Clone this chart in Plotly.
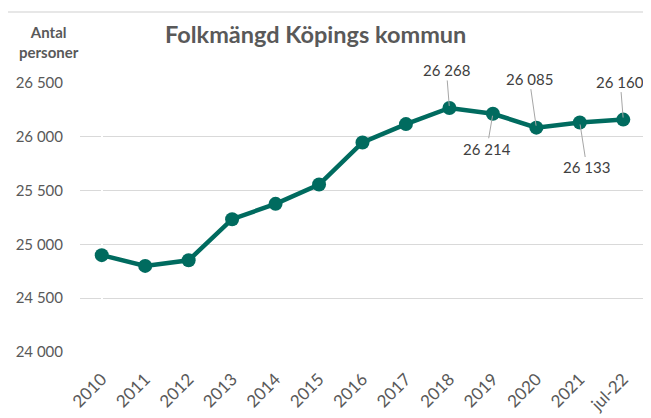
import plotly.graph_objects as go

categories = ["2010", "2011", "2012", "2013", "2014", "2015", "2016",
              "2017", "2018", "2019", "2020", "2021", "jul-22"]
population = [24900, 24800, 24852, 25234, 25377, 25556, 25947,
              26118, 26268, 26214, 26085, 26133, 26160]
y_tick_vals = [24000, 24500, 25000, 25500, 26000, 26500]
labelled_categories = ["2018", "2019", "2020", "2021", "jul-22"]
label_offsets = {"2018": (-3, -38), "2019": (-6, 35), "2020": (-7, -49),
                 "2021": (7, 45), "jul-22": (-3, -38)}

def fmt(v):
    return f"{v:,}".replace(",", " ")

FONT = "Lato"
LINE = "#006B5F"

# page body has an 8px margin; work in screen pixels and subtract it
OFF = 8
W, H = 651 - OFF, 418 - OFF
L, R, T, B = 80 - OFF, 6, 83 - OFF, 418 - 352
pw, ph = W - L - R, H - T - B

def px2paper_x(px):
    return (px - OFF - L) / pw

def px2paper_y(py):
    return (H - B - (py - OFF)) / ph

fig = go.Figure()
fig.add_trace(go.Scatter(
    x=list(range(len(categories))), y=population, mode="lines+markers",
    line=dict(color=LINE, width=4.5),
    marker=dict(color=LINE, size=14),
    hoverinfo="skip", showlegend=False,
))

annotations = []
for c in labelled_categories:
    i = categories.index(c)
    v = population[i]
    ax, ay = label_offsets[c]
    annotations.append(dict(
        x=i, y=v, xref="x", yref="y", text=fmt(v),
        showarrow=True, arrowhead=0, arrowwidth=1, arrowcolor="#A6A6A6",
        ax=ax, ay=ay, standoff=2,
        font=dict(family=FONT, size=15, color="#404040"),
    ))

annotations.append(dict(
    x=px2paper_x(49), y=px2paper_y(42), xref="paper", yref="paper",
    text="<b>Antal<br>personer</b>", showarrow=False,
    font=dict(family=FONT, size=15, color="#595959"),
    xanchor="center", yanchor="middle", align="center",
))
annotations.append(dict(
    x=px2paper_x(315), y=px2paper_y(34), xref="paper", yref="paper",
    text="<b>Folkmängd Köpings kommun</b>", showarrow=False,
    font=dict(family=FONT, size=23.5, color="#595959"),
    xanchor="center", yanchor="middle",
))

border = dict(color="#D0D0D0", width=1.2)
fig.update_layout(
    width=W, height=H,
    margin=dict(l=L, r=R, t=T, b=B, autoexpand=False),
    paper_bgcolor="white", plot_bgcolor="white",
    annotations=annotations,
    shapes=[
        dict(type="line", xref="paper", yref="paper",
             x0=px2paper_x(5), x1=px2paper_x(660),
             y0=px2paper_y(12), y1=px2paper_y(12), line=border),
        dict(type="line", xref="paper", yref="paper",
             x0=px2paper_x(5), x1=px2paper_x(5),
             y0=px2paper_y(12), y1=px2paper_y(430), line=border),
    ],
)
fig.update_xaxes(
    range=[-0.5, len(categories) - 0.5],
    tickvals=list(range(len(categories))), ticktext=categories,
    tickangle=-45, showgrid=False, showline=False, ticks="",
    tickfont=dict(family=FONT, size=17, color="#595959"),
    ticklabelstandoff=13, automargin=False,
)
fig.update_yaxes(
    range=[24000, 26500], tickvals=y_tick_vals,
    ticktext=[fmt(v) for v in y_tick_vals],
    showgrid=True, gridcolor="#D9D9D9", gridwidth=1,
    zeroline=False, showline=False, ticks="",
    tickfont=dict(family=FONT, size=15, color="#595959"),
    ticklabelstandoff=16, automargin=False,
)

fig.write_html("out.html")
